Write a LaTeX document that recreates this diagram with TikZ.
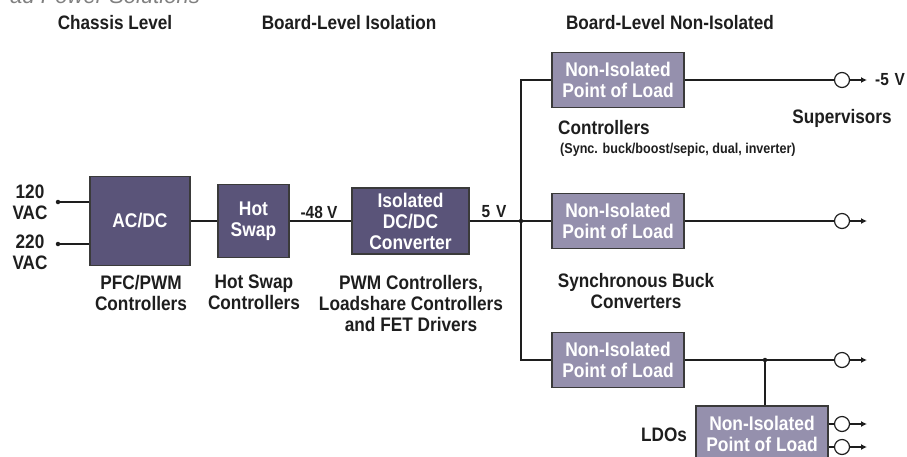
\documentclass[tikz,border=0pt]{standalone}
\usepackage{fontspec}
\setmainfont{Liberation Sans}[FakeStretch=0.88]
\newfontfamily\topfont{Liberation Sans}
\usetikzlibrary{arrows.meta}
\definecolor{boxdark}{HTML}{5A5479}
\definecolor{boxlight}{HTML}{9590AD}
\definecolor{edgegray}{HTML}{3A3A3A}
\definecolor{inkgray}{HTML}{1E1E1E}
\tikzset{
	darkbox/.style={draw=edgegray, line width=1.6pt, fill=boxdark, text=white, align=center, inner sep=0pt, font=\bfseries\fontsize{19.8}{21}\selectfont},
	lightbox/.style={darkbox, fill=boxlight},
	headtext/.style={text=inkgray, align=center, inner sep=0pt, font=\bfseries\fontsize{19.5}{21}\selectfont},
	capttext/.style={headtext, font=\bfseries\fontsize{19.6}{21}\selectfont},
	sidetext/.style={text=inkgray, align=center, inner sep=0pt, font=\bfseries\fontsize{19.5}{21}\selectfont},
	volttext/.style={text=inkgray, inner sep=0pt, font=\bfseries\fontsize{17.5}{18}\selectfont},
	wire/.style={draw=inkgray, line width=1.5pt},
	jdot/.style={circle, fill=inkgray, inner sep=0pt, minimum size=4.5pt},
	ring/.style={circle, draw=inkgray, line width=1.2pt, inner sep=0pt, minimum size=15pt},
	outarrow/.style={wire, -{Latex[length=6pt, width=6pt]}}
}
\begin{document}
\begin{tikzpicture}[x=1pt, y=-1pt]
	\useasboundingbox (0, 0) rectangle (907, 456);
	\clip (0, 0) rectangle (907, 456);
	% Headings:
	\node[anchor=base east, text=gray, inner sep=0pt, font=\topfont\itshape\fontsize{22}{24}\selectfont] (title) at (200, 3){ad Power Solutions};
	\node[headtext] (hchassis) at (115, 23){Chassis Level};
	\node[headtext] (hisol) at (349, 23){Board-Level Isolation};
	\node[headtext] (hnoniso) at (670, 23){Board-Level Non-Isolated};
	% Blocks:
	\node[darkbox, minimum width=100, minimum height=89] (acdc) at (140, 221){AC/DC};
	\node[darkbox, minimum width=71, minimum height=73] (hotswap) at (253.5, 221){Hot\\Swap};
	\node[darkbox, minimum width=117, minimum height=66] (isodc) at (410.5, 221){Isolated\\DC/DC\\Converter};
	\node[lightbox, minimum width=132, minimum height=55] (polA) at (618, 80){Non-Isolated\\Point of Load};
	\node[lightbox, minimum width=132, minimum height=55] (polB) at (618, 221){Non-Isolated\\Point of Load};
	\node[lightbox, minimum width=132, minimum height=55] (polC) at (618, 360){Non-Isolated\\Point of Load};
	\node[lightbox, minimum width=132, minimum height=55] (ldo) at (762, 433.5){Non-Isolated\\Point of Load};
	% Inputs:
	\node[sidetext] (vin1) at (30, 202.5){120\\VAC};
	\node[sidetext] (vin2) at (30, 252.5){220\\VAC};
	\node[jdot] (in1) at (58, 202){};
	\node[jdot] (in2) at (58, 244){};
	\draw[wire] (in1) -- (in1 -| acdc.west);
	\draw[wire] (in2) -- (in2 -| acdc.west);
	% Main chain:
	\draw[wire] (acdc.east) -- (hotswap.west);
	\draw[wire] (hotswap.east) -- (isodc.west);
	\node[jdot] (bus) at (521, 221){};
	\draw[wire] (isodc.east) -- (bus);
	\draw[wire] (polA.west) -| (bus) |- (polC.west);
	\draw[wire] (bus) -- (polB.west);
	\node[volttext] (v48) at (319, 212){-48 V};
	\node[volttext] (v5) at (494, 212){5\,\,V};
	% Outputs:
	\node[ring] (ringA) at (842, 80){};
	\node[ring] (ringB) at (842, 221){};
	\node[ring] (ringC) at (842, 360){};
	\node[ring] (ringD) at (842, 424){};
	\node[ring] (ringE) at (842, 447){};
	\coordinate (tipA) at (867, 80);
	\coordinate (tipB) at (867, 221);
	\coordinate (tipC) at (867, 360);
	\coordinate (tipD) at (867, 424);
	\coordinate (tipE) at (867, 447);
	\draw[wire] (polA.east) -- (ringA);
	\draw[wire] (polB.east) -- (ringB);
	\draw[wire] (polC.east) -- (ringC);
	\draw[wire] (ringD -| ldo.east) -- (ringD);
	\draw[wire] (ringE -| ldo.east) -- (ringE);
	\draw[outarrow] (ringA) -- (tipA);
	\draw[outarrow] (ringB) -- (tipB);
	\draw[outarrow] (ringC) -- (tipC);
	\draw[outarrow] (ringD) -- (tipD);
	\draw[outarrow] (ringE) -- (tipE);
	\node[jdot] (tap) at (765, 360){};
	\draw[wire] (tap) -- (tap |- ldo.north);
	\node[volttext, anchor=west] (vneg5) at (875, 80){-5\,\,V};
	% Captions:
	\node[capttext] (cpfc) at (141, 292.5){PFC/PWM\\Controllers};
	\node[capttext] (chot) at (254, 292.5){Hot Swap\\Controllers};
	\node[capttext] (cpwm) at (411, 303){PWM Controllers,\\Loadshare Controllers\\and FET Drivers};
	\node[sidetext] (csup) at (842, 118){Supervisors};
	\node[sidetext, anchor=west] (cctrl) at (558, 128){Controllers};
	\node[text=inkgray, anchor=west, inner sep=0pt, font=\bfseries\fontsize{14.3}{16}\selectfont] (csync) at (560, 150){(Sync. buck/boost/sepic, dual, inverter)};
	\node[sidetext] (cbuck) at (636, 291.5){Synchronous Buck\\Converters};
	\node[sidetext] (cldo) at (664, 435){LDOs};
\end{tikzpicture}
\end{document}
